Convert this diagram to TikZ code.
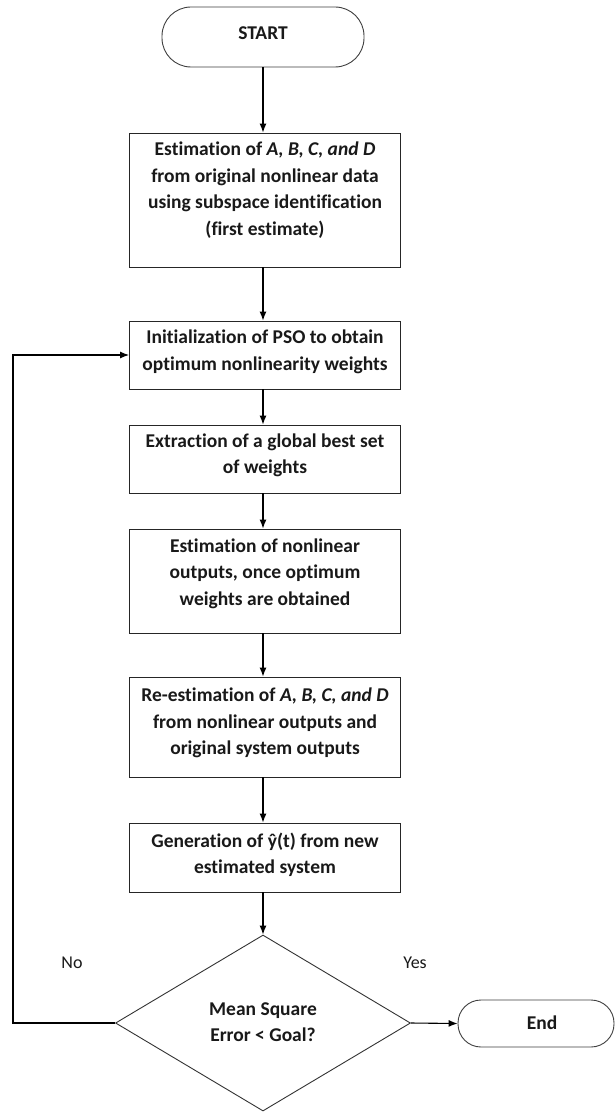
\documentclass[tikz,border=0pt]{standalone}
\usepackage{fontspec}
\setmainfont[Ligatures={NoCommon}]{Carlito}
\usetikzlibrary{shapes.geometric,arrows.meta}
\begin{document}
\begin{tikzpicture}[x=1pt,y=-1pt,
  box/.style={draw=black!85,line width=0.9pt,minimum width=271pt,inner sep=0pt},
  txt/.style={align=center,font=\bfseries\fontsize{19.5}{26.5}\selectfont,text=black!90,inner sep=0pt},
  term/.style={draw=black!75,line width=0.9pt,rounded corners=24pt,inner sep=0pt},
  arr/.style={line width=1.1pt,-{Latex[length=9pt,width=7pt]}},
  lbl/.style={font=\fontsize{18}{20}\selectfont,text=black!90}]
\useasboundingbox (0,0) rectangle (615,1113);
\fill[white] (0,0) rectangle (615,1113);
% start
\node[term,minimum width=202pt,minimum height=60pt,rounded corners=29pt] (start) at (263,37) {};
\node[txt] (tstart) at (263,33) {START};
% boxes
\node[box,minimum height=134pt] (b1) at (265,200) {};
\node[txt] (t1) at (265,190) {Estimation of \textit{A, B, C, and D}\\from original nonlinear data\\using subspace identification\\(first estimate)};
\node[box,minimum height=68pt] (b2) at (265,355) {};
\node[txt] (t2) at (265,352) {Initialization of PSO to obtain\\optimum nonlinearity weights};
\node[box,minimum height=68pt] (b3) at (265,459) {};
\node[txt] (t3) at (265,455.5) {Extraction of a global best set\\of weights};
\node[box,minimum height=104pt] (b4) at (265,581) {};
\node[txt] (t4) at (265,573.5) {Estimation of nonlinear\\outputs, once optimum\\weights are obtained};
\node[box,minimum height=100pt] (b5) at (265,727) {};
\node[txt] (t5) at (265,723) {Re-estimation of \textit{A, B, C, and D}\\from nonlinear outputs and\\original system outputs};
\node[box,minimum height=69pt] (b6) at (265,857.5) {};
\node[txt] (t6) at (265,855) {Generation of ŷ(t) from new\\estimated system};
% decision
\node[draw=black!80,line width=0.9pt,diamond,minimum width=295pt,minimum height=176pt,inner sep=0pt] (dia) at (263,1023) {};
\node[txt] (td) at (263,1022) {Mean Square\\Error < Goal?};
% end
\node[term,minimum width=156pt,minimum height=47pt,rounded corners=23pt] (end) at (536,1023.5) {};
\node[txt] (tend) at (542,1023) {End};
% labels
\node[lbl] (no) at (72,963) {No};
\node[lbl] (yes) at (415,963) {Yes};
% connectors
\draw[arr] (start.south) -- (start.south |- b1.north);
\draw[arr] (b1.south -| start) -- (b2.north -| start);
\draw[arr] (b2.south -| start) -- (b3.north -| start);
\draw[arr] (b3.south -| start) -- (b4.north -| start);
\draw[arr] (b4.south -| start) -- (b5.north -| start);
\draw[arr] (b5.south -| start) -- (b6.north -| start);
\draw[arr] (b6.south -| start) -- (dia.north);
\draw[arr] (dia.east) -- (end.west);
\coordinate (fb) at (13,1023);
\draw[arr] (dia.west) -- (fb) |- (b2.west);
\end{tikzpicture}
\end{document}
